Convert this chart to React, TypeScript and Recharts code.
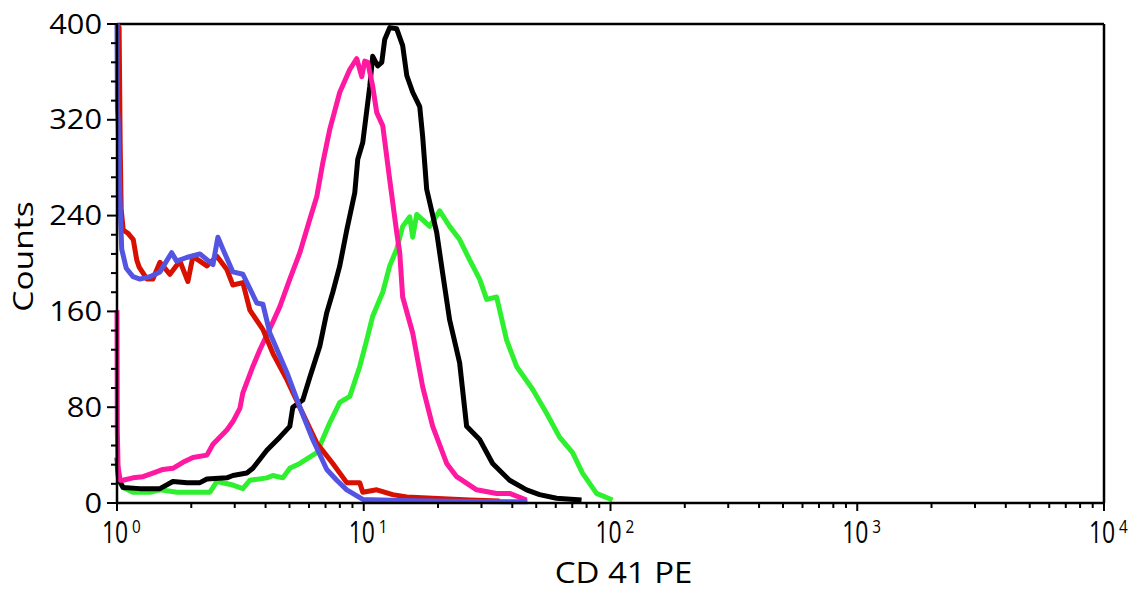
import React from 'react';
import { LineChart, Line, XAxis, YAxis, ReferenceLine } from 'recharts';

// CD41 PE histograms, x = fluorescence intensity (log), y = counts
const redCounts = [
  [1.0, 400], [1.02, 397], [1.03, 300], [1.04, 245], [1.06, 228], [1.111, 225], [1.164, 220],
  [1.202, 203], [1.23, 197], [1.323, 187], [1.398, 187], [1.493, 201], [1.639, 191], [1.799, 202],
  [1.938, 185], [2.031, 206], [2.314, 198], [2.541, 206], [2.788, 195], [2.949, 182], [3.237, 184],
  [3.455, 161], [3.9, 145], [4.282, 125], [4.879, 103], [5.507, 80], [6.452, 50], [7.491, 33],
  [8.535, 17], [9.635, 17], [9.908, 9], [11.29, 11], [13.1, 7], [14.94, 5], [19.03, 4],
  [26.86, 2.5], [35.5, 1.7],
];

const blueCounts = [
  [1.0, 400], [1.004, 330], [1.01, 321], [1.028, 253], [1.045, 212], [1.09, 196], [1.161, 189],
  [1.239, 187], [1.36, 189], [1.493, 193], [1.665, 209], [1.745, 202], [1.915, 205], [2.168, 208],
  [2.448, 199], [2.564, 222], [2.686, 212], [2.949, 193], [3.237, 191], [3.687, 167], [3.9, 166],
  [4.163, 142], [4.879, 109], [5.507, 80], [6.215, 53], [7.082, 28], [7.773, 19], [8.535, 11],
  [9.908, 3], [14, 2], [22.3, 1.5], [46.1, 1],
];

const pinkCounts = [
  [1.0, 161], [1.003, 60], [1.01, 30], [1.03, 19], [1.057, 19], [1.161, 21], [1.274, 22],
  [1.398, 25], [1.535, 28], [1.685, 29], [1.85, 34], [2.031, 38], [2.314, 40], [2.448, 49],
  [2.788, 61], [2.949, 68], [3.148, 79], [3.237, 92], [3.553, 114], [3.793, 128], [4.282, 151],
  [4.57, 164], [5.016, 187], [5.507, 209], [6.046, 237], [6.452, 256], [6.823, 284], [7.283, 312],
  [7.995, 343], [8.777, 362], [9.368, 371], [9.815, 356], [10.09, 369], [10.38, 368], [10.87, 348],
  [11.29, 326], [11.94, 315], [12.74, 270], [13.6, 226], [13.99, 209], [14.38, 172], [15.79, 142],
  [17.33, 97], [19.03, 64], [21.68, 33], [23.8, 22], [28.68, 11], [34.55, 8], [39, 8], [45.7, 2.5],
];

const blackCounts = [
  [1.0, 38], [1.015, 20], [1.057, 13], [1.239, 12], [1.493, 12], [1.685, 18], [1.921, 17],
  [2.168, 17], [2.314, 20], [2.788, 21], [2.949, 23], [3.36, 25], [3.553, 29], [4.049, 44],
  [4.57, 55], [5.016, 64], [5.159, 80], [5.662, 86], [6.046, 105], [6.636, 131], [7.082, 159],
  [7.491, 176], [7.995, 198], [8.535, 228], [9.196, 259], [9.456, 287], [9.908, 301], [10.58, 348],
  [10.87, 373], [11.39, 365], [11.83, 368], [12.16, 387], [12.74, 397], [13.6, 396], [14.38, 382],
  [14.94, 357], [15.79, 343], [16.86, 331], [17.33, 306], [17.99, 262], [19.75, 226], [20.88, 192],
  [22.28, 153], [24.47, 117], [26.12, 64], [29.49, 53], [33.29, 33], [39, 19], [45.7, 11],
  [51.59, 7], [60.46, 4], [76.32, 2.5],
];

const greenCounts = [
  [1.0, 32], [1.015, 20], [1.057, 13], [1.161, 9], [1.36, 9], [1.493, 11], [1.75, 9], [2.38, 9],
  [2.541, 18], [2.949, 15], [3.237, 12], [3.455, 19], [4.049, 21], [4.282, 23], [4.7, 21],
  [5.016, 29], [5.507, 33], [6.452, 42], [7.283, 67], [7.995, 84], [8.777, 89], [9.635, 114],
  [10.28, 136], [10.87, 156], [11.94, 176], [12.74, 198], [13.6, 212], [14.38, 231], [15.36, 239],
  [15.79, 222], [16.39, 241], [18.5, 231], [20.31, 244], [22.28, 231], [24.47, 220], [26.86, 203],
  [29.49, 187], [31.48, 170], [34.55, 172], [37.93, 136], [41.63, 114], [48.33, 95], [55.07, 75],
  [62.15, 55], [70.2, 42], [77.03, 25], [87.77, 8], [101.9, 2.5],
];

const decades = [1, 10, 100, 1000];
const xTicks: number[] = [];
decades.forEach((d) => {
  for (let k = 1; k <= 9; k++) xTicks.push(k * d);
});
xTicks.push(10000);

const yTicks: number[] = [];
for (let v = 0; v <= 400; v += 16) yTicks.push(v);

const toPts = (rows: number[][]) => rows.map(([x, y]) => ({ x, y }));

const FONT = '"Open Sans", "DejaVu Sans", sans-serif';

const XTick = (props: any) => {
  const { x, y, payload } = props;
  const lg = Math.log10(payload.value);
  const exp = Math.round(lg);
  const major = Math.abs(lg - exp) < 1e-9;
  return (
    <g>
      <line x1={x} x2={x} y1={y} y2={y + (major ? 8 : 5)} stroke="#000" strokeWidth={2} />
      {major && (
        <g fill="#000" fontFamily={FONT}>
          <text transform={`translate(${x - 15},${y + 40}) scale(0.74,1)`} fontSize={31}>10</text>
          <text transform={`translate(${x + 15},${y + 30}) scale(0.85,1)`} fontSize={18}>{exp}</text>
        </g>
      )}
    </g>
  );
};

const YTick = (props: any) => {
  const { x, y, payload } = props;
  const major = payload.value % 80 === 0;
  return (
    <g>
      <line x1={x - (major ? 10 : 6)} x2={x} y1={y} y2={y} stroke="#000" strokeWidth={2} />
      {major && (
        <text
          transform={`translate(${x - 15},${y + 9.5}) scale(1.14,1)`}
          textAnchor="end"
          fontSize={27}
          fontFamily={FONT}
          fill="#000"
        >
          {payload.value}
        </text>
      )}
    </g>
  );
};

const XTitle = (props: any) => {
  const { viewBox } = props;
  const cx = viewBox.x + viewBox.width / 2 + 13;
  return (
    <text transform={`translate(${cx},${viewBox.y + 80}) scale(1.1,1)`} textAnchor="middle" fontSize={30} fontFamily={FONT} fill="#000">
      CD 41 PE
    </text>
  );
};

const YTitle = (props: any) => {
  const { viewBox } = props;
  const cy = viewBox.y + viewBox.height / 2 - 7;
  return (
    <text transform={`translate(33,${cy}) rotate(-90) scale(1.2,1)`} textAnchor="middle" fontSize={28} fontFamily={FONT} fill="#000">
      Counts
    </text>
  );
};

const series = [
  { name: 'green', rows: greenCounts, color: '#2ff02f' },
  { name: 'black', rows: blackCounts, color: '#000000' },
  { name: 'pink', rows: pinkCounts, color: '#ff18a0' },
  { name: 'red', rows: redCounts, color: '#d81000' },
  { name: 'blue', rows: blueCounts, color: '#5454e2' },
];

export default function App() {
  return (
    <div style={{ position: 'absolute', left: 0, top: 0, width: 1134, height: 592, background: '#fff' }}>
      <LineChart width={1134} height={592} margin={{ top: 24, right: 30, bottom: 0, left: 0 }}>
        <XAxis
          type="number"
          dataKey="x"
          scale="log"
          domain={[1, 10000]}
          ticks={xTicks}
          interval={0}
          tick={<XTick />}
          tickLine={false}
          tickSize={0}
          tickMargin={0}
          height={89}
          axisLine={{ stroke: '#000', strokeWidth: 2.5 }}
          label={<XTitle />}
        />
        <YAxis
          type="number"
          domain={[0, 400]}
          ticks={yTicks}
          interval={0}
          tick={<YTick />}
          tickLine={false}
          tickSize={0}
          tickMargin={0}
          width={117}
          axisLine={{ stroke: '#000', strokeWidth: 2.5 }}
          label={<YTitle />}
        />
        <ReferenceLine y={400} stroke="#000" strokeWidth={2.5} />
        <ReferenceLine x={10000} stroke="#000" strokeWidth={2.5} />
        {series.map((s) => (
          <Line
            key={s.name}
            data={toPts(s.rows)}
            dataKey="y"
            type="linear"
            stroke={s.color}
            strokeWidth={5}
            strokeLinejoin="round"
            dot={false}
            isAnimationActive={false}
          />
        ))}
      </LineChart>
    </div>
  );
}
